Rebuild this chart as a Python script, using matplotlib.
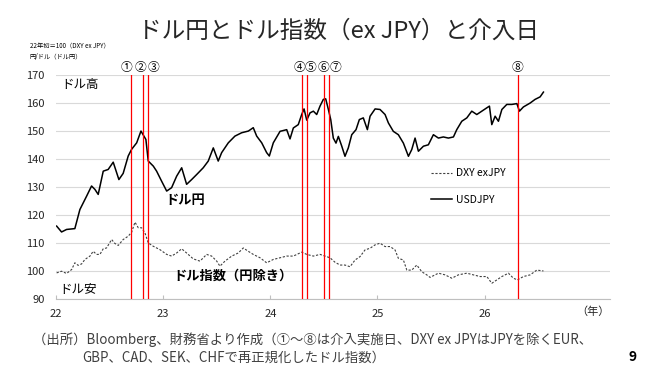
import matplotlib
matplotlib.use("Agg")
import matplotlib.pyplot as plt

plt.rcParams["font.family"] = ["Noto Sans CJK JP", "DejaVu Sans"]

# USDJPY (decimal year, 円/ドル)
usdjpy_t = [22.006, 22.052, 22.099, 22.176, 22.223, 22.286, 22.332, 22.363, 22.394, 22.441,
            22.487, 22.534, 22.587, 22.627, 22.674, 22.706, 22.753, 22.793, 22.839, 22.861,
            22.908, 22.939, 22.986, 23.033, 23.079, 23.126, 23.173, 23.219, 23.266, 23.313,
            23.374, 23.421, 23.468, 23.514, 23.546, 23.608, 23.670, 23.733, 23.795, 23.841,
            23.873, 23.920, 23.966, 23.991, 24.028, 24.091, 24.153, 24.184, 24.215, 24.261,
            24.293, 24.315, 24.340, 24.371, 24.402, 24.433, 24.464, 24.495, 24.517, 24.542,
            24.564, 24.588, 24.613, 24.635, 24.667, 24.697, 24.728, 24.760, 24.800, 24.831,
            24.868, 24.906, 24.931, 24.978, 25.024, 25.071, 25.102, 25.148, 25.195, 25.242,
            25.289, 25.320, 25.351, 25.382, 25.429, 25.475, 25.522, 25.569, 25.615, 25.662,
            25.709, 25.740, 25.787, 25.834, 25.880, 25.927, 25.974, 26.021, 26.045, 26.067,
            26.098, 26.129, 26.161, 26.207, 26.254, 26.301, 26.325, 26.362, 26.425, 26.471,
            26.518, 26.549]
usdjpy = [116.1, 114.0, 114.9, 115.2, 122.0, 126.8, 130.4, 129.2, 127.4, 135.7,
          136.3, 138.9, 132.7, 134.9, 141.1, 143.5, 145.8, 150.0, 147.0, 139.3,
          137.5, 135.7, 132.1, 128.6, 129.8, 133.9, 136.9, 131.0, 132.7, 134.5,
          136.9, 139.3, 144.0, 139.3, 142.3, 145.8, 148.2, 149.4, 150.0, 151.2,
          148.2, 145.8, 142.3, 141.1, 145.8, 149.9, 150.5, 147.2, 151.1, 152.3,
          155.9, 157.9, 153.9, 156.5, 157.1, 155.9, 158.9, 161.3, 161.5, 157.7,
          154.1, 147.5, 145.7, 148.1, 144.6, 141.0, 144.0, 148.7, 150.5, 154.1,
          154.7, 150.5, 155.3, 157.9, 157.7, 155.9, 152.9, 149.9, 148.7, 145.7,
          141.0, 143.4, 147.5, 142.8, 144.6, 145.1, 148.7, 147.5, 147.9, 147.5,
          147.9, 150.5, 153.5, 154.7, 157.1, 155.9, 157.1, 158.3, 158.9, 152.3,
          155.3, 153.5, 157.7, 159.5, 159.5, 159.8, 157.1, 158.6, 160.0, 161.3,
          162.2, 163.9]

# DXY ex JPY (22年初=100)
dxy_t = [22.006, 22.052, 22.099, 22.146, 22.176, 22.207, 22.239, 22.270, 22.317, 22.347,
         22.379, 22.410, 22.441, 22.472, 22.519, 22.550, 22.581, 22.627, 22.674, 22.706,
         22.737, 22.768, 22.799, 22.830, 22.861, 22.908, 22.970, 23.033, 23.079, 23.126,
         23.173, 23.219, 23.281, 23.344, 23.406, 23.453, 23.500, 23.530, 23.577, 23.640,
         23.701, 23.748, 23.795, 23.841, 23.904, 23.966, 24.028, 24.091, 24.153, 24.215,
         24.293, 24.340, 24.402, 24.464, 24.511, 24.557, 24.604, 24.651, 24.697, 24.744,
         24.791, 24.837, 24.884, 24.931, 24.978, 25.024, 25.071, 25.118, 25.164, 25.195,
         25.242, 25.274, 25.320, 25.367, 25.414, 25.460, 25.491, 25.569, 25.631, 25.694,
         25.755, 25.834, 25.895, 25.958, 26.021, 26.067, 26.114, 26.161, 26.222, 26.269,
         26.306, 26.362, 26.425, 26.487, 26.549]
dxy = [99.4, 100.0, 99.2, 100.6, 103.0, 102.1, 102.6, 104.2, 105.4, 107.1,
       106.0, 106.0, 108.0, 108.3, 111.3, 109.9, 109.2, 111.3, 112.5, 113.9,
       117.5, 115.5, 115.5, 113.7, 110.1, 108.9, 107.7, 106.0, 105.4, 106.5,
       108.0, 106.5, 104.4, 103.6, 106.0, 105.4, 103.6, 101.8, 103.6, 105.4,
       106.5, 108.3, 107.1, 106.0, 104.8, 103.0, 104.2, 104.8, 105.4, 105.4,
       106.8, 106.0, 105.4, 106.0, 105.4, 104.8, 103.2, 102.2, 102.2, 101.6,
       104.0, 105.2, 107.6, 108.2, 109.4, 110.0, 108.8, 108.8, 107.6, 104.6,
       104.0, 100.4, 100.4, 102.2, 99.8, 98.7, 97.8, 99.3, 98.7, 97.5,
       98.7, 99.3, 98.7, 98.1, 98.1, 95.7, 96.9, 98.1, 99.3, 97.5,
       96.9, 98.1, 98.7, 100.4, 100.1]

# intervention days
interv_t = [22.70, 22.81, 22.86, 24.295, 24.34, 24.50, 24.545, 26.31]
interv_lbl = ["①", "②", "③", "④", "⑤", "⑥", "⑦", "⑧"]
year_ticks = [22, 23, 24, 25, 26]

fig = plt.figure(figsize=(6.51, 3.75), dpi=100)
ax = fig.add_axes([0.086, 0.202, 0.851, 0.598])

ax.plot(dxy_t, dxy, color="#404040", lw=0.8, ls=(0, (2, 1.5)), label="DXY exJPY")
ax.plot(usdjpy_t, usdjpy, color="black", lw=1.1, label="USDJPY")

# label nudges in points so neighbouring circles don't overlap
nudge = [-3, -2, 4, -2, 3, 0, 5, 0]
for t, lbl, dx in zip(interv_t, interv_lbl, nudge):
    ax.axvline(t, color="#ff0000", lw=0.9, zorder=3)
    ax.annotate(lbl, (t, 170), xytext=(dx, 1), textcoords="offset points",
                ha="center", va="bottom", fontsize=8.5, annotation_clip=False)

ax.set_xlim(22, 27.17)
ax.set_ylim(90, 170)
ax.set_yticks(range(90, 171, 10))
ax.set_xticks(year_ticks)
ax.set_xticklabels([str(y) for y in year_ticks])
ax.yaxis.grid(True, color="#d9d9d9", lw=0.8)
ax.set_axisbelow(True)
for s in ["top", "right", "left"]:
    ax.spines[s].set_visible(False)
ax.spines["bottom"].set_color("#bfbfbf")
ax.tick_params(axis="y", length=0, pad=8, labelsize=8, colors="#262626")
ax.tick_params(axis="x", direction="in", length=3, color="#bfbfbf", pad=7,
               labelsize=8, labelcolor="#262626")

ax.text(1.0, -0.055, "（年）", transform=ax.transAxes, ha="right", va="center",
        fontsize=8, color="#262626")

ax.text(22.05, 166.5, "ドル高", fontsize=9, va="center")
ax.text(22.03, 93.5, "ドル安", fontsize=9, va="center")
ax.text(23.02, 125.5, "ドル円", fontsize=9.5, fontweight="bold", va="center")
ax.text(23.1, 98.5, "ドル指数（円除き）", fontsize=9.5, fontweight="bold", va="center")

ax.legend(handles=ax.get_lines()[:2], loc="upper left", bbox_to_anchor=(0.66, 0.625),
          frameon=False, fontsize=7.5, handlelength=2.0, labelspacing=1.6,
          handletextpad=0.4)

fig.text(0.52, 0.918, "ドル円とドル指数（ex JPY）と介入日", ha="center", va="center",
         fontsize=17, color="#262626")
fig.text(0.046, 0.875, "22年初＝100（DXY ex JPY）", fontsize=4.5, va="center")
fig.text(0.046, 0.848, "円/ドル（ドル円）", fontsize=4.5, va="center")

fig.text(0.05, 0.093, "（出所）Bloomberg、財務省より作成（①～⑧は介入実施日、DXY ex JPYはJPYを除くEUR、",
         fontsize=9.6, color="#404040", va="center")
fig.text(0.127, 0.047, "GBP、CAD、SEK、CHFで再正規化したドル指数）",
         fontsize=9.6, color="#404040", va="center")
fig.text(0.978, 0.047, "9", fontsize=10, fontweight="bold", ha="right", va="center")

fig.savefig("out.png", dpi=100)
